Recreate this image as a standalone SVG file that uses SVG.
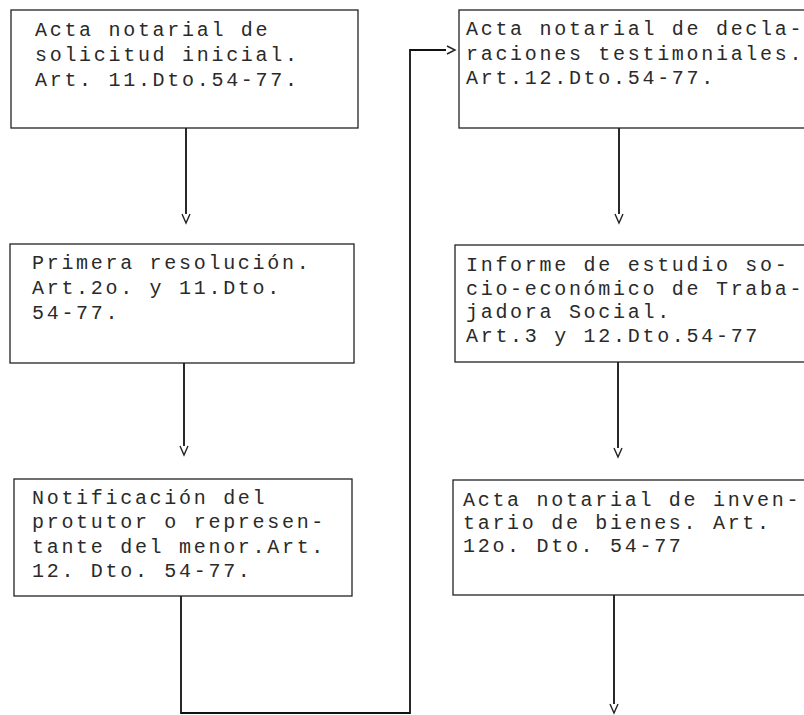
<svg xmlns="http://www.w3.org/2000/svg" width="804" height="715" viewBox="0 0 804 715">
<style>
.box{fill:none;stroke:#222;stroke-width:1.3}
.t{font-family:"Liberation Mono","DejaVu Sans Mono",monospace;font-size:20px;letter-spacing:2.7px;fill:#2a2a2a}
.c{fill:none;stroke:#111;stroke-width:1.8}
.h{fill:none;stroke:#222;stroke-width:1.4}
</style>
<rect width="804" height="715" fill="#fff"/>
<g id="connectors">
<path class="c" d="M186 128 V214"/><polyline class="h" points="182,214 186,223 190,214"/>
<path class="c" d="M184 363 V446"/><polyline class="h" points="180,446 184,455 188,446"/>
<path class="c" d="M181 596 V713 H410 V50 H446"/><polyline class="h" points="447,46 455,50 447,54"/>
<path class="c" d="M619 128 V214"/><polyline class="h" points="615,214 619,223 623,214"/>
<path class="c" d="M618 362 V448"/><polyline class="h" points="614,448 618,457 622,448"/>
<path class="c" d="M614 595 V704"/><polyline class="h" points="610,704 614,713 618,704"/>
</g>
<g id="n1">
<rect class="box" x="11" y="10" width="347" height="118"/>
<text class="t" x="35" y="36">Acta notarial de</text>
<text class="t" x="35" y="61">solicitud inicial.</text>
<text class="t" x="35" y="86">Art. 11.Dto.54-77.</text>
</g>
<g id="n2">
<rect class="box" x="10" y="244" width="344" height="119"/>
<text class="t" x="32" y="269">Primera resolución.</text>
<text class="t" x="32" y="294">Art.2o. y 11.Dto.</text>
<text class="t" x="32" y="319">54-77.</text>
</g>
<g id="n3">
<rect class="box" x="14" y="479" width="338" height="117"/>
<text class="t" x="32" y="504">Notificación del</text>
<text class="t" x="32" y="528">protutor o represen-</text>
<text class="t" x="32" y="553">tante del menor.Art.</text>
<text class="t" x="32" y="577">12. Dto. 54-77.</text>
</g>
<g id="n4">
<rect class="box" x="459" y="10" width="360" height="118"/>
<text class="t" x="466" y="35">Acta notarial de decla-</text>
<text class="t" x="466" y="60">raciones testimoniales.</text>
<text class="t" x="466" y="84">Art.12.Dto.54-77.</text>
</g>
<g id="n5">
<rect class="box" x="455" y="245" width="364" height="117"/>
<text class="t" x="466" y="271">Informe de estudio so-</text>
<text class="t" x="466" y="295">cio-económico de Traba-</text>
<text class="t" x="466" y="318">jadora Social.</text>
<text class="t" x="466" y="342">Art.3 y 12.Dto.54-77</text>
</g>
<g id="n6">
<rect class="box" x="453" y="480" width="366" height="115"/>
<text class="t" x="463" y="506">Acta notarial de inven-</text>
<text class="t" x="463" y="529">tario de bienes. Art.</text>
<text class="t" x="463" y="552">12o. Dto. 54-77</text>
</g>
</svg>
